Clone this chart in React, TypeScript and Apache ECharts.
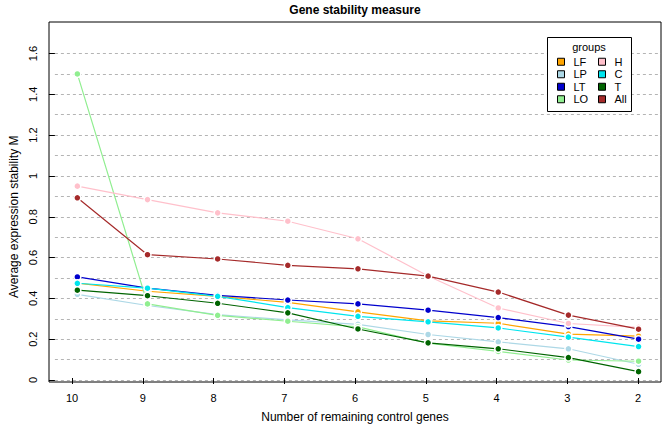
import React, { useEffect, useRef } from "react";
import * as echarts from "echarts";

const categories = ["10", "9", "8", "7", "6", "5", "4", "3", "2"];
const seriesNames = ["LF", "LP", "LT", "LO", "H", "C", "T", "All"];
const LF = [0.475, 0.435, 0.41, 0.38, 0.334, 0.29, 0.278, 0.225, 0.215];
const LP = [0.42, 0.365, 0.32, 0.295, 0.273, 0.223, 0.187, 0.153, 0.077];
const LT = [0.505, 0.45, 0.415, 0.392, 0.373, 0.342, 0.306, 0.262, 0.2];
const LO = [1.5, 0.373, 0.317, 0.288, 0.26, 0.18, 0.14, 0.098, 0.092];
const H = [0.95, 0.884, 0.819, 0.778, 0.692, 0.51, 0.353, 0.277, 0.258];
const C = [0.474, 0.45, 0.41, 0.355, 0.312, 0.285, 0.255, 0.21, 0.164];
const T = [0.44, 0.413, 0.376, 0.329, 0.25, 0.182, 0.153, 0.11, 0.041];
const All = [0.893, 0.614, 0.593, 0.562, 0.545, 0.509, 0.431, 0.318, 0.249];
const seriesValues = [LF, LP, LT, LO, H, C, T, All];
const colors = ["#FFA500", "#ADD8E6", "#0000CD", "#90EE90", "#FFC0CB", "#00E5EE", "#006400", "#A52A2A"];

const FONT = "Liberation Sans";

export default function App() {
  const ref = useRef<HTMLDivElement>(null);
  useEffect(() => {
    if (!ref.current) return;
    const chart = echarts.init(ref.current, null, { renderer: "svg" });
    const fmt = (v: number) => String(Math.round(v * 10) / 10);
    chart.setOption({
      animation: false,
      textStyle: { fontFamily: FONT },
      grid: [
        { left: 49, right: 3, top: 53.5, bottom: 48 },
        { left: 72, right: 26, top: 22, bottom: 46 },
        { left: 49, right: 3, top: 22, bottom: 46, show: true, borderColor: "#000", borderWidth: 1, backgroundColor: "transparent" },
      ],
      xAxis: [
        { type: "value", gridIndex: 0, min: -0.32, max: 8.32, show: false },
        {
          type: "category", gridIndex: 1, data: categories, boundaryGap: false,
          axisLine: { show: false },
          axisTick: { show: true, length: 6, lineStyle: { color: "#000" } },
          axisLabel: { color: "#000", fontSize: 11, margin: 14, fontFamily: FONT },
          name: "Number of remaining control genes", nameLocation: "middle", nameGap: 33,
          nameTextStyle: { color: "#000", fontSize: 12, fontFamily: FONT },
          splitLine: { show: false },
        },
        { type: "value", gridIndex: 2, show: false },
      ],
      yAxis: [
        {
          type: "value", gridIndex: 0, min: 0, max: 1.6, interval: 0.1,
          axisLine: { show: false }, axisTick: { show: false }, axisLabel: { show: false },
          splitLine: { show: true, lineStyle: { color: "#b4b4b4", type: [3, 3], width: 1 } },
        },
        {
          type: "value", gridIndex: 0, min: 0, max: 1.6, interval: 0.2, position: "left",
          axisLine: { show: false },
          axisTick: { show: true, length: 6, lineStyle: { color: "#000" } },
          axisLabel: { color: "#000", fontSize: 11, rotate: 90, margin: 16, formatter: fmt, fontFamily: FONT },
          splitLine: { show: false },
          name: "Average expression stability M", nameLocation: "middle", nameGap: 32,
          nameTextStyle: { color: "#000", fontSize: 12, fontFamily: FONT },
        },
        { type: "value", gridIndex: 1, show: false },
        { type: "value", gridIndex: 2, show: false },
      ],
      legend: [
        {
          data: seriesNames.slice(0, 4), orient: "vertical", left: 557, top: 56,
          icon: "rect", itemWidth: 7, itemHeight: 7, itemGap: 1,
          padding: 0,
          itemStyle: { borderColor: "#000", borderWidth: 1 },
          textStyle: { color: "#000", fontSize: 11, fontFamily: FONT, lineHeight: 11.5, padding: [0, 0, 0, 4] },
          selectedMode: false,
        },
        {
          data: seriesNames.slice(4), orient: "vertical", left: 598, top: 56,
          icon: "rect", itemWidth: 7, itemHeight: 7, itemGap: 1,
          padding: 0,
          itemStyle: { borderColor: "#000", borderWidth: 1 },
          textStyle: { color: "#000", fontSize: 11, fontFamily: FONT, lineHeight: 11.5, padding: [0, 0, 0, 4] },
          selectedMode: false,
        },
      ],
      graphic: [
        {
          type: "text", x: 355, y: 10, z: 10,
          style: { text: "Gene stability measure", align: "center", verticalAlign: "middle", font: `bold 12px ${FONT}`, fill: "#000" },
        },
        {
          type: "rect", z: 3, shape: { x: 547.5, y: 37.5, width: 84, height: 74 },
          style: { fill: "#fff", stroke: "#000", lineWidth: 1 },
        },
        {
          type: "text", x: 589, y: 47, z: 4,
          style: { text: "groups", align: "center", verticalAlign: "middle", font: `11px ${FONT}`, fill: "#000" },
        },
      ],
      series: seriesNames.map((name, k) => ({
        name, type: "line", xAxisIndex: 0, yAxisIndex: 0,
        data: categories.map((_, i) => [i, seriesValues[k][i]]),
        symbol: "circle", symbolSize: 7, showSymbol: true,
        itemStyle: { color: colors[k], borderColor: "#fff", borderWidth: 1.5 },
        lineStyle: { color: colors[k], width: 1.2 },
        z: 2 + k * 0.01,
      })),
    });
    return () => chart.dispose();
  }, []);
  return <div ref={ref} style={{ position: "absolute", left: 0, top: 0, width: 664, height: 428 }} />;
}
